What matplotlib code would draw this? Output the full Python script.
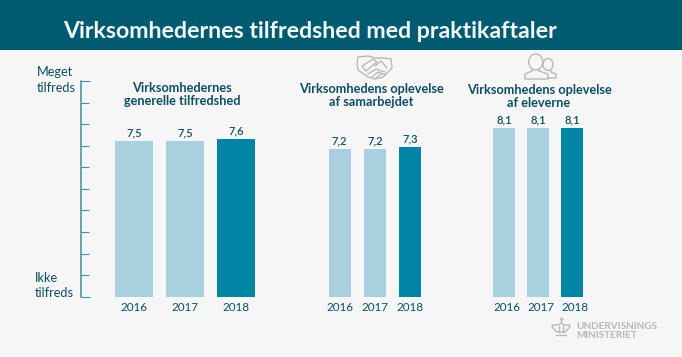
import matplotlib
matplotlib.use('Agg')
import matplotlib.pyplot as plt
from matplotlib.patches import Rectangle, Ellipse, Polygon
from matplotlib.transforms import ScaledTranslation

plt.rcParams['font.family'] = ['Lato', 'DejaVu Sans']

W, H = 682, 357
BG = '#f6f6f7'
HEADER = '#005a70'
LIGHT = '#a8d0de'
DARK = '#0085a6'
TEXT = '#0b4f60'
GREY = '#b8b8b8'

title = 'Virksomhedernes tilfredshed med praktikaftaler'
years = ['2016', '2017', '2018']
values_general = [7.5, 7.5, 7.6]
values_cooperation = [7.2, 7.2, 7.3]
values_students = [8.1, 8.1, 8.1]
heading_general = 'Virksomhedernes\ngenerelle tilfredshed'
heading_cooperation = 'Virksomhedens oplevelse\naf samarbejdet'
heading_students = 'Virksomhedens oplevelse\naf eleverne'


def px_axes(fig, left, top, right, bottom):
    """Axes placed by pixel edges, y counted from the top of the image."""
    return fig.add_axes([left / W, 1 - bottom / H, (right - left) / W, (bottom - top) / H])


def draw_panel(fig, values, left, right, top, unit_px, bar_w, year_shift=0):
    ax = px_axes(fig, left, top, right, 296.7)
    ax.patch.set_alpha(0)
    ax.bar(range(3), values, width=bar_w, color=[LIGHT, LIGHT, DARK])
    ax.set_xlim(-bar_w / 2, 2 + bar_w / 2)
    ax.set_ylim(0, (296.7 - top) / unit_px)
    for s in ax.spines.values():
        s.set_visible(False)
    ax.set_yticks([])
    ax.set_xticks(range(3), years)
    ax.tick_params(axis='x', length=0, pad=3.5, labelsize=8.4, labelcolor=TEXT)
    # year labels sit a little right of the bars in the last panel
    for lab in ax.get_xticklabels():
        lab.set_transform(lab.get_transform() + ScaledTranslation(year_shift / 100, 0, fig.dpi_scale_trans))
    labels = [str(v).replace('.', ',') for v in values]
    ax.bar_label(ax.containers[0], labels=labels, padding=2, fontsize=8, color=TEXT, fontweight='semibold')
    return ax


def outline(ax, xs, ys):
    ax.plot(xs, ys, color=GREY, lw=1.0, solid_capstyle='round')


fig = plt.figure(figsize=(W / 100, H / 100), dpi=100, facecolor=BG)

# full figure layer in pixel coordinates for header, texts and icons
bg = fig.add_axes([0, 0, 1, 1])
bg.set_xlim(0, W)
bg.set_ylim(H, 0)
bg.axis('off')
bg.add_patch(Rectangle((0, 0), W, 49.5, color=HEADER, lw=0))
bg.text(63.5, 31, title, fontsize=16.7, fontweight='bold', color='#f2f8fa', va='center', ha='left')

# left satisfaction scale
scale = px_axes(fig, 81, 81, 90, 296.7)
scale.patch.set_alpha(0)
scale.set_xlim(0, 1)
scale.set_ylim(0, 10)
for s in ['top', 'right', 'bottom']:
    scale.spines[s].set_visible(False)
scale.spines['left'].set_color('#3f8fa6')
scale.spines['left'].set_linewidth(1.1)
scale.set_xticks([])
scale.set_yticks(range(11))
scale.set_yticklabels([])
scale.tick_params(axis='y', direction='in', length=5.5, width=0.8, color='#3f8fa6')
for t in [scale.yaxis.get_major_ticks()[0], scale.yaxis.get_major_ticks()[10]]:
    t.tick1line.set_markersize(6.5)

bg.text(36.5, 72, 'Meget', fontsize=9.2, color=TEXT, va='center')
bg.text(37, 87.5, 'tilfreds', fontsize=9.2, color=TEXT, va='center')
bg.text(34.5, 278, 'Ikke', fontsize=9.2, color=TEXT, va='center')
bg.text(34.5, 293, 'tilfreds', fontsize=9.2, color=TEXT, va='center')

draw_panel(fig, values_general, 115.3, 255, 81, 20.76, 0.74)
draw_panel(fig, values_cooperation, 328.7, 421.3, 81, 20.5, 0.63)
draw_panel(fig, values_students, 493, 583, 81, 20.86, 0.647, year_shift=3)

for x, y, s in [(182, 94.5, heading_general), (371.5, 95.5, heading_cooperation), (539, 96.5, heading_students)]:
    bg.text(x, y, s, fontsize=9.2, fontweight='bold', color=TEXT, ha='center', va='center', linespacing=1.15)

# handshake icon
bg.add_patch(Polygon([[358, 57], [368, 56], [375, 58], [383, 58], [391, 59], [392, 68], [383, 77],
                      [375, 79], [368, 77], [358, 70], [357, 64]], closed=True, fill=False, ec=GREY, lw=1.0))
bg.add_patch(Polygon([[362, 66], [373, 59], [377, 62], [366, 71]], closed=True, fill=False, ec=GREY, lw=1.0))
outline(bg, [375, 381, 387], [66, 61, 68])
outline(bg, [368, 376, 385], [74, 69, 72])
outline(bg, [372, 378, 386], [77, 72, 75])
outline(bg, [376, 381], [78, 74])

# people icon
bg.add_patch(Ellipse((535.7, 62), 14, 16, fill=False, ec=GREY, lw=1.0))
outline(bg, [532, 532, 525, 525, 548, 548, 539, 539], [69, 71, 74, 79, 79, 74, 71, 69])
bg.add_patch(Ellipse((548, 64.5), 10, 12, fill=False, ec=GREY, lw=1.0))
outline(bg, [551, 551, 556, 556, 548], [70, 72, 74, 78, 78])

# ministry logo
bg.add_patch(Polygon([[557, 332], [552, 327], [553, 325], [558, 325], [561, 323], [564, 325],
                      [569, 325], [570, 327], [565, 332]], closed=True, fill=False, ec=GREY, lw=1.0))
outline(bg, [556, 566], [335, 335])
outline(bg, [561, 561], [317, 322])
outline(bg, [559.5, 562.5], [319, 319])
outline(bg, [559, 559], [326, 332])
outline(bg, [563, 563], [326, 332])
bg.text(576.5, 326.5, 'UNDERVISNINGS', fontsize=7.2, fontweight='bold', color=GREY, va='center')
bg.text(576.5, 335.5, 'MINISTERIET', fontsize=7.2, fontweight='bold', color=GREY, va='center')

fig.savefig('out.png', dpi=100, facecolor=BG)
